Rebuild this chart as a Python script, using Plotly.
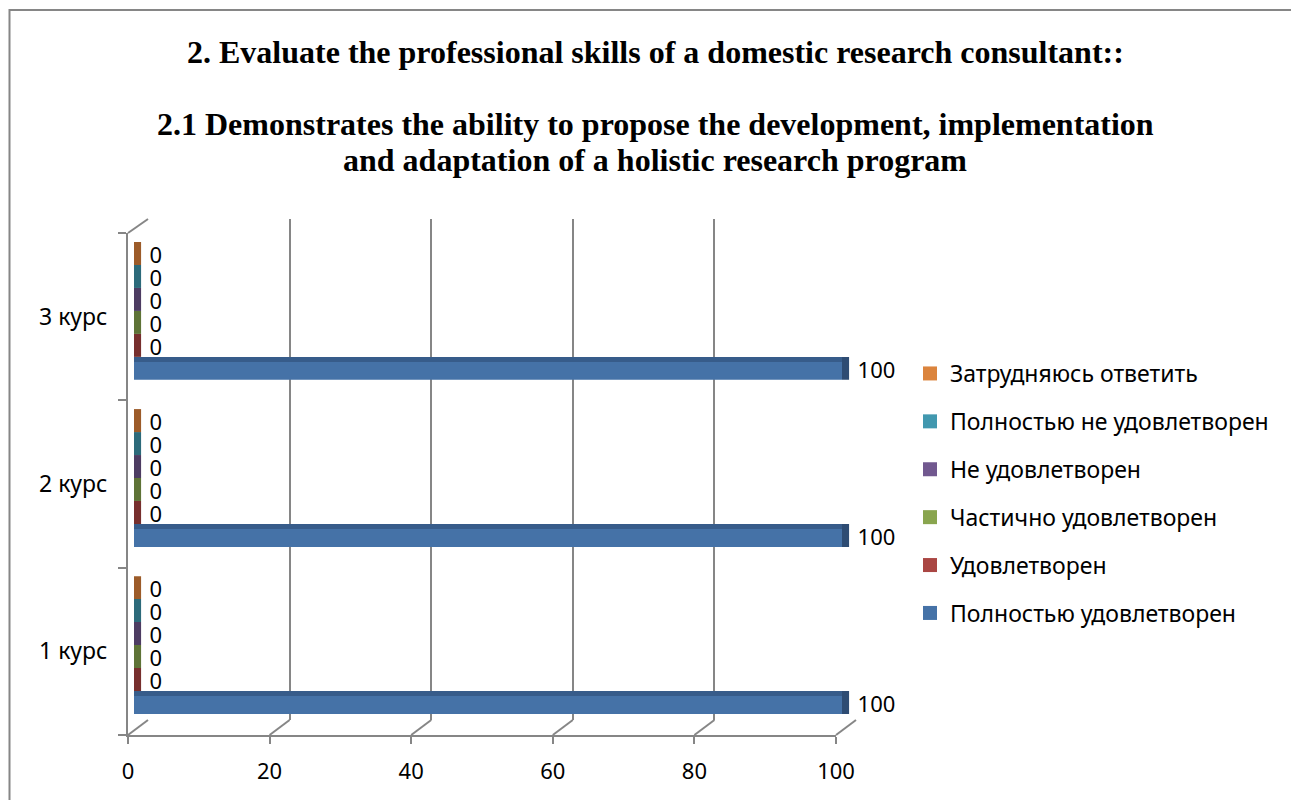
import plotly.graph_objects as go

# Figure fills the whole window (body margin removed in post_script)
W, H = 1291, 800

# Data
courses = ['1 курс', '2 курс', '3 курс']
series_names = ['Полностью удовлетворен', 'Удовлетворен', 'Частично удовлетворен',
                'Не удовлетворен', 'Полностью не удовлетворен', 'Затрудняюсь ответить']
fully_satisfied = [100, 100, 100]
satisfied = [0, 0, 0]
partly_satisfied = [0, 0, 0]
not_satisfied = [0, 0, 0]
fully_not_satisfied = [0, 0, 0]
hard_to_say = [0, 0, 0]
x_ticks = [0, 20, 40, 60, 80, 100]

series_values = [fully_satisfied, satisfied, partly_satisfied,
                 not_satisfied, fully_not_satisfied, hard_to_say]

# Excel-like 3D palette: front / top / side faces
main_colors = ['#4572A7', '#AA4643', '#89A54E', '#71588F', '#4198AF', '#DB843D']
top_colors = ['#375C8A', '#8C3836', '#718B40', '#5D4876', '#358094', '#B66C32']
side_colors = ['#2E4C73', '#772F2D', '#5E7336', '#4D3C62', '#2C6A7A', '#9C5B29']

FRAME = '#868686'
FONT = 'Noto Sans, DejaVu Sans, sans-serif'
SERIF = 'Liberation Serif, Times New Roman, serif'


# pixel -> paper coordinates
def px(x):
    return x / W


def py(y):
    return (H - y) / H


fig = go.Figure()

# back wall grid (first subplot so bars sit on top of it)
fig.add_trace(go.Scatter(x=[None], y=[None], xaxis='x', yaxis='y', showlegend=False))
# front frame with tick labels
fig.add_trace(go.Scatter(x=[None], y=[None], xaxis='x2', yaxis='y2', showlegend=False))

n = len(series_names)
slot = 0.1375
depth = 1.0
ypos = list(range(len(courses)))

for i, (name, vals) in enumerate(zip(series_names, series_values)):
    off = -n / 2 * slot + i * slot
    rank = 100 - i * 10
    fig.add_trace(go.Bar(
        y=ypos, x=vals, orientation='h', width=slot, offset=off,
        marker=dict(color=main_colors[i], line=dict(width=0)),
        name=name, legendgroup=name, showlegend=False,
        xaxis='x3', yaxis='y3', hoverinfo='x+name'))
    # top face of the bar
    fig.add_trace(go.Bar(
        y=ypos, x=vals, orientation='h', width=slot * 0.22, offset=off + slot * 0.78,
        marker=dict(color=top_colors[i], line=dict(width=0)),
        showlegend=False, legendgroup=name,
        xaxis='x3', yaxis='y3', hoverinfo='skip'))
    # side face at the end of the bar
    fig.add_trace(go.Bar(
        y=ypos, x=[depth] * len(vals), base=vals, orientation='h', width=slot, offset=off,
        marker=dict(color=side_colors[i], line=dict(width=0)),
        showlegend=False, legendgroup=name,
        xaxis='x3', yaxis='y3', hoverinfo='skip'))
    # data labels
    fig.add_trace(go.Scatter(
        y=[p + off + slot / 2 - 0.025 for p in ypos], x=[v + depth + 1.2 for v in vals],
        mode='text', text=[str(v) for v in vals], textposition='middle right',
        textfont=dict(family=FONT, size=22, color='black'),
        showlegend=False, legendgroup=name,
        xaxis='x3', yaxis='y3', hoverinfo='skip', cliponaxis=False))
    # legend entry with a bigger square swatch
    fig.add_trace(go.Scatter(
        x=[None], y=[None], mode='markers', name=name, legendgroup=name, legendrank=rank,
        marker=dict(symbol='square', size=14, color=main_colors[i]),
        xaxis='x3', yaxis='y3'))

# 3D frame: floor diagonals and top-left edge
shapes = []
for k in x_ticks:
    shapes.append(dict(type='line', xref='paper', yref='paper',
                       x0=px(128 + 7.08 * k), y0=py(735), x1=px(148 + 7.08 * k), y1=py(720),
                       line=dict(color=FRAME, width=2)))
shapes.append(dict(type='line', xref='paper', yref='paper',
                   x0=px(128), y0=py(233), x1=px(148), y1=py(219),
                   line=dict(color=FRAME, width=2)))
# chart border (runs off the right and bottom edges)
shapes.append(dict(type='rect', xref='paper', yref='paper',
                   x0=px(9.5), y0=-0.05, x1=1.05, y1=py(10),
                   line=dict(color=FRAME, width=2)))

title_lines = [
    ('2. Evaluate the professional skills of a domestic research consultant::', 52),
    ('2.1 Demonstrates the ability to propose the development, implementation', 124),
    ('and adaptation of a holistic research program', 160),
]
annotations = [dict(text='<b>%s</b>' % t, x=px(655), y=py(yc), xref='paper', yref='paper',
                    xanchor='center', yanchor='middle', showarrow=False,
                    font=dict(family=SERIF, size=32, color='black'))
               for t, yc in title_lines]

fig.update_layout(
    width=W, height=H,
    margin=dict(l=0, r=0, t=0, b=0, autoexpand=False),
    paper_bgcolor='white', plot_bgcolor='rgba(0,0,0,0)',
    barmode='overlay',
    showlegend=True,
    shapes=shapes,
    annotations=annotations,
    legend=dict(x=px(910), y=py(352), xanchor='left', yanchor='top',
                traceorder='grouped', tracegroupgap=15,
                font=dict(family=FONT, size=23, color='black'),
                bgcolor='rgba(0,0,0,0)'),
    # back wall
    xaxis=dict(domain=[px(148), px(856)], range=[0, 100], anchor='y',
               tickvals=x_ticks, showticklabels=False, ticks='',
               showgrid=True, gridcolor=FRAME, gridwidth=2, zeroline=False, showline=False),
    yaxis=dict(domain=[py(720), py(219)], range=[0, 1], anchor='x', visible=False),
    # front frame
    xaxis2=dict(domain=[px(128), px(836)], range=[0, 100], anchor='y2',
                tickvals=x_ticks, ticks='outside', ticklen=7, tickwidth=2, tickcolor=FRAME,
                showline=True, linecolor=FRAME, linewidth=2, showgrid=False, zeroline=False,
                ticklabelstandoff=9,
                tickfont=dict(family=FONT, size=22, color='black')),
    yaxis2=dict(domain=[py(735), py(233)], range=[-0.5, 2.5], anchor='x2',
                tickvals=ypos, ticktext=courses, ticks='',
                minor=dict(tickvals=[-0.5, 0.5, 1.5, 2.5], ticks='outside', ticklen=8,
                           tickwidth=2, tickcolor=FRAME, showgrid=False),
                showline=True, linecolor=FRAME, linewidth=2, showgrid=False, zeroline=False,
                ticklabelstandoff=14,
                tickfont=dict(family=FONT, size=23, color='black')),
    # bars (range runs past 100 so the end labels have room)
    xaxis3=dict(domain=[px(134), px(134 + 7.08 * 110)], range=[0, 110], anchor='y3', visible=False),
    yaxis3=dict(domain=[py(728.6), py(227.4)], range=[-0.5, 2.5], anchor='x3', visible=False),
)

fig.write_html("out.html", config={'displayModeBar': False},
               post_script="document.body.style.margin = '0';")
